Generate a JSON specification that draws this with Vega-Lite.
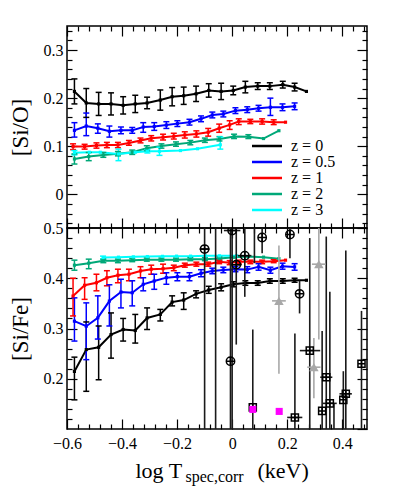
{
"$schema":"https://vega.github.io/schema/vega-lite/v6.json",
"padding":{"left":8,"top":24,"right":5,"bottom":5},
"config":{"font":"Liberation Serif, DejaVu Serif, serif","view":{"stroke":"#000","strokeWidth":1.5},
"axis":{"grid":false,"domain":false,"tickColor":"#000","tickWidth":1.2,"labelFont":"Liberation Serif, DejaVu Serif, serif","titleFont":"Liberation Serif, DejaVu Serif, serif","labelColor":"#000","titleColor":"#000","labelFontSize":16,"titleFontSize":22,"titleFontWeight":"normal","labelFlush":false,"labels":false},
"legend":{"labelFont":"Liberation Serif, DejaVu Serif, serif"}},
"datasets":{
"sim_top":[
{"s":"z = 0","x":-0.573,"y":0.214,"lo":0.188,"hi":0.240},
{"s":"z = 0","x":-0.530,"y":0.190,"lo":0.160,"hi":0.220},
{"s":"z = 0","x":-0.485,"y":0.188,"lo":0.164,"hi":0.212},
{"s":"z = 0","x":-0.440,"y":0.188,"lo":0.165,"hi":0.211},
{"s":"z = 0","x":-0.396,"y":0.185,"lo":0.167,"hi":0.203},
{"s":"z = 0","x":-0.352,"y":0.188,"lo":0.170,"hi":0.206},
{"s":"z = 0","x":-0.309,"y":0.190,"lo":0.178,"hi":0.202},
{"s":"z = 0","x":-0.261,"y":0.196,"lo":0.175,"hi":0.217},
{"s":"z = 0","x":-0.218,"y":0.203,"lo":0.184,"hi":0.222},
{"s":"z = 0","x":-0.176,"y":0.205,"lo":0.187,"hi":0.223},
{"s":"z = 0","x":-0.131,"y":0.209,"lo":0.193,"hi":0.225},
{"s":"z = 0","x":-0.085,"y":0.216,"lo":0.202,"hi":0.230},
{"s":"z = 0","x":-0.040,"y":0.214,"lo":0.197,"hi":0.231},
{"s":"z = 0","x":0.004,"y":0.216,"lo":0.207,"hi":0.225},
{"s":"z = 0","x":0.048,"y":0.223,"lo":0.211,"hi":0.235},
{"s":"z = 0","x":0.093,"y":0.225,"lo":0.218,"hi":0.232},
{"s":"z = 0","x":0.137,"y":0.225,"lo":0.218,"hi":0.232},
{"s":"z = 0","x":0.184,"y":0.228,"lo":0.221,"hi":0.235},
{"s":"z = 0","x":0.227,"y":0.223,"lo":0.215,"hi":0.231},
{"s":"z = 0","x":0.270,"y":0.214,"lo":null,"hi":null},
{"s":"z = 0.5","x":-0.573,"y":0.133,"lo":0.119,"hi":0.149},
{"s":"z = 0.5","x":-0.530,"y":0.142,"lo":0.122,"hi":0.169},
{"s":"z = 0.5","x":-0.488,"y":0.1375,"lo":0.127,"hi":0.1465},
{"s":"z = 0.5","x":-0.446,"y":0.131,"lo":0.119,"hi":0.142},
{"s":"z = 0.5","x":-0.404,"y":0.133,"lo":0.126,"hi":0.140},
{"s":"z = 0.5","x":-0.363,"y":0.133,"lo":0.127,"hi":0.139},
{"s":"z = 0.5","x":-0.323,"y":0.140,"lo":0.129,"hi":0.149},
{"s":"z = 0.5","x":-0.283,"y":0.141,"lo":0.133,"hi":0.149},
{"s":"z = 0.5","x":-0.239,"y":0.144,"lo":0.137,"hi":0.151},
{"s":"z = 0.5","x":-0.199,"y":0.147,"lo":0.141,"hi":0.153},
{"s":"z = 0.5","x":-0.155,"y":0.150,"lo":0.144,"hi":0.156},
{"s":"z = 0.5","x":-0.113,"y":0.157,"lo":0.151,"hi":0.163},
{"s":"z = 0.5","x":-0.072,"y":0.165,"lo":0.159,"hi":0.171},
{"s":"z = 0.5","x":-0.032,"y":0.167,"lo":0.161,"hi":0.173},
{"s":"z = 0.5","x":0.012,"y":0.174,"lo":0.168,"hi":0.180},
{"s":"z = 0.5","x":0.055,"y":0.176,"lo":0.170,"hi":0.182},
{"s":"z = 0.5","x":0.096,"y":0.179,"lo":0.173,"hi":0.185},
{"s":"z = 0.5","x":0.139,"y":0.181,"lo":0.164,"hi":0.200},
{"s":"z = 0.5","x":0.183,"y":0.181,"lo":0.174,"hi":0.188},
{"s":"z = 0.5","x":0.227,"y":0.183,"lo":0.176,"hi":0.190},
{"s":"z = 1","x":-0.578,"y":0.0994,"lo":0.093,"hi":0.105},
{"s":"z = 1","x":-0.536,"y":0.0994,"lo":0.094,"hi":0.104},
{"s":"z = 1","x":-0.493,"y":0.1015,"lo":0.096,"hi":0.107},
{"s":"z = 1","x":-0.455,"y":0.1027,"lo":0.097,"hi":0.108},
{"s":"z = 1","x":-0.415,"y":0.1027,"lo":0.097,"hi":0.108},
{"s":"z = 1","x":-0.375,"y":0.1069,"lo":0.102,"hi":0.112},
{"s":"z = 1","x":-0.333,"y":0.1119,"lo":0.107,"hi":0.117},
{"s":"z = 1","x":-0.294,"y":0.1167,"lo":0.111,"hi":0.122},
{"s":"z = 1","x":-0.251,"y":0.1188,"lo":0.113,"hi":0.125},
{"s":"z = 1","x":-0.212,"y":0.1208,"lo":0.115,"hi":0.127},
{"s":"z = 1","x":-0.172,"y":0.1235,"lo":0.117,"hi":0.130},
{"s":"z = 1","x":-0.130,"y":0.1256,"lo":0.119,"hi":0.132},
{"s":"z = 1","x":-0.087,"y":0.1292,"lo":0.121,"hi":0.137},
{"s":"z = 1","x":-0.047,"y":0.1375,"lo":0.129,"hi":0.146},
{"s":"z = 1","x":-0.009,"y":0.1444,"lo":0.135,"hi":0.153},
{"s":"z = 1","x":0.024,"y":0.1515,"lo":0.145,"hi":0.157},
{"s":"z = 1","x":0.066,"y":0.1515,"lo":0.147,"hi":0.156},
{"s":"z = 1","x":0.109,"y":0.1515,"lo":0.146,"hi":0.157},
{"s":"z = 1","x":0.151,"y":0.150,"lo":0.145,"hi":0.155},
{"s":"z = 1","x":0.194,"y":0.150,"lo":null,"hi":null},
{"s":"z = 2","x":-0.573,"y":0.0735,"lo":0.063,"hi":0.084},
{"s":"z = 2","x":-0.521,"y":0.0785,"lo":0.070,"hi":0.087},
{"s":"z = 2","x":-0.468,"y":0.0817,"lo":0.077,"hi":0.087},
{"s":"z = 2","x":-0.415,"y":0.0844,"lo":0.080,"hi":0.089},
{"s":"z = 2","x":-0.363,"y":0.0875,"lo":0.083,"hi":0.092},
{"s":"z = 2","x":-0.310,"y":0.0958,"lo":0.091,"hi":0.101},
{"s":"z = 2","x":-0.257,"y":0.1004,"lo":0.096,"hi":0.105},
{"s":"z = 2","x":-0.204,"y":0.1042,"lo":0.100,"hi":0.109},
{"s":"z = 2","x":-0.152,"y":0.1075,"lo":0.103,"hi":0.112},
{"s":"z = 2","x":-0.099,"y":0.1125,"lo":0.108,"hi":0.117},
{"s":"z = 2","x":-0.046,"y":0.1152,"lo":0.111,"hi":0.120},
{"s":"z = 2","x":0.007,"y":0.1204,"lo":0.116,"hi":0.125},
{"s":"z = 2","x":0.059,"y":0.1198,"lo":0.116,"hi":0.124},
{"s":"z = 2","x":0.114,"y":0.116,"lo":null,"hi":null},
{"s":"z = 2","x":0.170,"y":0.1323,"lo":null,"hi":null},
{"s":"z = 3","x":-0.573,"y":0.0865,"lo":0.082,"hi":0.091},
{"s":"z = 3","x":-0.519,"y":0.0875,"lo":null,"hi":null},
{"s":"z = 3","x":-0.479,"y":0.0875,"lo":null,"hi":null},
{"s":"z = 3","x":-0.413,"y":0.084,"lo":0.070,"hi":0.094},
{"s":"z = 3","x":-0.352,"y":0.0875,"lo":null,"hi":null},
{"s":"z = 3","x":-0.308,"y":0.0896,"lo":0.086,"hi":0.093},
{"s":"z = 3","x":-0.264,"y":0.0896,"lo":0.081,"hi":0.098},
{"s":"z = 3","x":-0.188,"y":0.091,"lo":null,"hi":null},
{"s":"z = 3","x":-0.126,"y":0.0948,"lo":null,"hi":null},
{"s":"z = 3","x":-0.043,"y":0.103,"lo":0.094,"hi":0.119}
],
"sim_bot":[
{"s":"z = 0","x":-0.573,"y":0.2146,"lo":0.158,"hi":0.243},
{"s":"z = 0","x":-0.530,"y":0.258,"lo":0.175,"hi":0.313},
{"s":"z = 0","x":-0.485,"y":0.2626,"lo":0.198,"hi":0.305},
{"s":"z = 0","x":-0.440,"y":0.288,"lo":0.241,"hi":0.331},
{"s":"z = 0","x":-0.396,"y":0.298,"lo":0.275,"hi":0.320},
{"s":"z = 0","x":-0.352,"y":0.296,"lo":0.271,"hi":0.328},
{"s":"z = 0","x":-0.309,"y":0.321,"lo":0.298,"hi":0.341},
{"s":"z = 0","x":-0.261,"y":0.328,"lo":0.315,"hi":0.338},
{"s":"z = 0","x":-0.218,"y":0.3526,"lo":0.345,"hi":0.365},
{"s":"z = 0","x":-0.176,"y":0.3566,"lo":0.338,"hi":0.371},
{"s":"z = 0","x":-0.131,"y":0.369,"lo":0.361,"hi":0.375},
{"s":"z = 0","x":-0.085,"y":0.3766,"lo":0.370,"hi":0.384},
{"s":"z = 0","x":-0.040,"y":0.382,"lo":0.375,"hi":0.389},
{"s":"z = 0","x":0.004,"y":0.388,"lo":0.383,"hi":0.393},
{"s":"z = 0","x":0.048,"y":0.3906,"lo":0.386,"hi":0.395},
{"s":"z = 0","x":0.093,"y":0.3906,"lo":0.386,"hi":0.395},
{"s":"z = 0","x":0.137,"y":0.3946,"lo":0.390,"hi":0.399},
{"s":"z = 0","x":0.184,"y":0.3946,"lo":0.390,"hi":0.399},
{"s":"z = 0","x":0.227,"y":0.396,"lo":0.392,"hi":0.400},
{"s":"z = 0","x":0.270,"y":0.396,"lo":null,"hi":null},
{"s":"z = 0.5","x":-0.573,"y":0.3146,"lo":0.275,"hi":0.361},
{"s":"z = 0.5","x":-0.530,"y":0.3046,"lo":0.238,"hi":0.351},
{"s":"z = 0.5","x":-0.488,"y":0.3212,"lo":0.279,"hi":0.365},
{"s":"z = 0.5","x":-0.446,"y":0.3546,"lo":0.305,"hi":0.387},
{"s":"z = 0.5","x":-0.404,"y":0.3726,"lo":0.341,"hi":0.398},
{"s":"z = 0.5","x":-0.363,"y":0.3712,"lo":0.345,"hi":0.395},
{"s":"z = 0.5","x":-0.323,"y":0.388,"lo":0.375,"hi":0.401},
{"s":"z = 0.5","x":-0.283,"y":0.3946,"lo":0.378,"hi":0.408},
{"s":"z = 0.5","x":-0.239,"y":0.4012,"lo":0.388,"hi":0.411},
{"s":"z = 0.5","x":-0.199,"y":0.4032,"lo":0.395,"hi":0.411},
{"s":"z = 0.5","x":-0.155,"y":0.4032,"lo":0.395,"hi":0.411},
{"s":"z = 0.5","x":-0.113,"y":0.41,"lo":0.403,"hi":0.417},
{"s":"z = 0.5","x":-0.072,"y":0.4146,"lo":0.409,"hi":0.420},
{"s":"z = 0.5","x":-0.032,"y":0.4166,"lo":0.411,"hi":0.422},
{"s":"z = 0.5","x":0.012,"y":0.418,"lo":0.413,"hi":0.423},
{"s":"z = 0.5","x":0.055,"y":0.4172,"lo":0.411,"hi":0.423},
{"s":"z = 0.5","x":0.096,"y":0.4226,"lo":0.416,"hi":0.429},
{"s":"z = 0.5","x":0.139,"y":0.416,"lo":0.410,"hi":0.422},
{"s":"z = 0.5","x":0.183,"y":0.424,"lo":0.418,"hi":0.430},
{"s":"z = 0.5","x":0.227,"y":0.4226,"lo":0.416,"hi":0.429},
{"s":"z = 1","x":-0.578,"y":0.3646,"lo":0.325,"hi":0.400},
{"s":"z = 1","x":-0.536,"y":0.386,"lo":0.358,"hi":0.401},
{"s":"z = 1","x":-0.493,"y":0.391,"lo":0.375,"hi":0.408},
{"s":"z = 1","x":-0.455,"y":0.401,"lo":0.385,"hi":0.415},
{"s":"z = 1","x":-0.415,"y":0.406,"lo":0.391,"hi":0.418},
{"s":"z = 1","x":-0.375,"y":0.408,"lo":0.395,"hi":0.418},
{"s":"z = 1","x":-0.333,"y":0.4146,"lo":0.401,"hi":0.423},
{"s":"z = 1","x":-0.294,"y":0.418,"lo":0.408,"hi":0.426},
{"s":"z = 1","x":-0.251,"y":0.419,"lo":0.410,"hi":0.428},
{"s":"z = 1","x":-0.212,"y":0.421,"lo":0.415,"hi":0.426},
{"s":"z = 1","x":-0.172,"y":0.426,"lo":0.422,"hi":0.430},
{"s":"z = 1","x":-0.130,"y":0.428,"lo":0.424,"hi":0.432},
{"s":"z = 1","x":-0.087,"y":0.428,"lo":0.424,"hi":0.432},
{"s":"z = 1","x":-0.047,"y":0.4326,"lo":0.429,"hi":0.436},
{"s":"z = 1","x":-0.009,"y":0.431,"lo":0.427,"hi":0.435},
{"s":"z = 1","x":0.024,"y":0.4326,"lo":0.429,"hi":0.436},
{"s":"z = 1","x":0.066,"y":0.4326,"lo":0.429,"hi":0.436},
{"s":"z = 1","x":0.109,"y":0.4326,"lo":0.429,"hi":0.436},
{"s":"z = 1","x":0.151,"y":0.434,"lo":0.431,"hi":0.437},
{"s":"z = 1","x":0.194,"y":0.436,"lo":null,"hi":null},
{"s":"z = 2","x":-0.573,"y":0.426,"lo":0.416,"hi":0.436},
{"s":"z = 2","x":-0.521,"y":0.430,"lo":0.419,"hi":0.438},
{"s":"z = 2","x":-0.468,"y":0.4346,"lo":0.431,"hi":0.438},
{"s":"z = 2","x":-0.415,"y":0.4346,"lo":0.431,"hi":0.438},
{"s":"z = 2","x":-0.363,"y":0.436,"lo":0.433,"hi":0.439},
{"s":"z = 2","x":-0.310,"y":0.4366,"lo":0.434,"hi":0.440},
{"s":"z = 2","x":-0.257,"y":0.4366,"lo":0.434,"hi":0.440},
{"s":"z = 2","x":-0.204,"y":0.4366,"lo":0.434,"hi":0.440},
{"s":"z = 2","x":-0.152,"y":0.438,"lo":0.435,"hi":0.441},
{"s":"z = 2","x":-0.099,"y":0.438,"lo":0.435,"hi":0.441},
{"s":"z = 2","x":-0.046,"y":0.4392,"lo":0.436,"hi":0.442},
{"s":"z = 2","x":0.007,"y":0.4416,"lo":null,"hi":null},
{"s":"z = 2","x":0.059,"y":0.4432,"lo":null,"hi":null},
{"s":"z = 2","x":0.114,"y":0.442,"lo":null,"hi":null},
{"s":"z = 2","x":0.170,"y":0.439,"lo":null,"hi":null},
{"s":"z = 3","x":-0.469,"y":0.4412,"lo":0.438,"hi":0.444},
{"s":"z = 3","x":-0.413,"y":0.442,"lo":null,"hi":null},
{"s":"z = 3","x":-0.359,"y":0.4426,"lo":null,"hi":null},
{"s":"z = 3","x":-0.308,"y":0.4432,"lo":null,"hi":null},
{"s":"z = 3","x":-0.253,"y":0.4436,"lo":null,"hi":null},
{"s":"z = 3","x":-0.202,"y":0.444,"lo":null,"hi":null},
{"s":"z = 3","x":-0.151,"y":0.444,"lo":null,"hi":null},
{"s":"z = 3","x":-0.097,"y":0.4446,"lo":null,"hi":null},
{"s":"z = 3","x":-0.046,"y":0.4446,"lo":null,"hi":null},
{"s":"z = 3","x":0.016,"y":0.4446,"lo":null,"hi":null}
],
"obs":[
{"t":"c","x":-0.100,"y":0.458,"ylo":0.05,"yhi":0.6,"xlo":-0.118,"xhi":-0.082},
{"t":"c","x":0.000,"y":0.495,"ylo":0.05,"yhi":0.6,"xlo":-0.03,"xhi":0.03},
{"t":"c","x":0.109,"y":0.481,"ylo":0.45,"yhi":0.52,"xlo":null,"xhi":null},
{"t":"c","x":0.210,"y":0.487,"ylo":0.44,"yhi":0.53,"xlo":null,"xhi":null},
{"t":"c","x":0.046,"y":0.445,"ylo":0.363,"yhi":0.6,"xlo":0.02,"xhi":0.07},
{"t":"c","x":0.245,"y":0.369,"ylo":0.33,"yhi":0.395,"xlo":null,"xhi":null},
{"t":"c","x":-0.006,"y":0.235,"ylo":0.05,"yhi":0.6,"xlo":null,"xhi":null},
{"t":"c","x":0.015,"y":0.427,"ylo":0.268,"yhi":0.6,"xlo":-0.005,"xhi":0.035},
{"t":"s","x":0.282,"y":0.256,"ylo":0.05,"yhi":0.48,"xlo":0.246,"xhi":0.32},
{"t":"s","x":0.342,"y":0.203,"ylo":0.05,"yhi":0.483,"xlo":0.32,"xhi":0.364},
{"t":"s","x":0.355,"y":0.151,"ylo":0.05,"yhi":0.373,"xlo":0.33,"xhi":0.38},
{"t":"s","x":0.327,"y":0.136,"ylo":0.05,"yhi":0.295,"xlo":null,"xhi":null},
{"t":"s","x":0.228,"y":0.123,"ylo":0.05,"yhi":0.29,"xlo":0.2,"xhi":0.255},
{"t":"s","x":0.413,"y":0.170,"ylo":0.05,"yhi":0.455,"xlo":0.39,"xhi":0.435},
{"t":"s","x":0.404,"y":0.158,"ylo":0.05,"yhi":0.215,"xlo":null,"xhi":null},
{"t":"s","x":0.470,"y":0.230,"ylo":0.05,"yhi":0.335,"xlo":null,"xhi":null},
{"t":"s","x":0.075,"y":0.143,"ylo":0.05,"yhi":0.298,"xlo":null,"xhi":null},
{"t":"t","x":0.170,"y":0.355,"ylo":0.21,"yhi":0.465,"xlo":0.145,"xhi":0.195},
{"t":"t","x":0.315,"y":0.428,"ylo":0.278,"yhi":0.6,"xlo":0.29,"xhi":0.34},
{"t":"t","x":0.297,"y":0.223,"ylo":0.161,"yhi":0.281,"xlo":0.273,"xhi":0.321},
{"t":"m","x":0.075,"y":0.139,"ylo":null,"yhi":null,"xlo":null,"xhi":null},
{"t":"m","x":0.171,"y":0.135,"ylo":null,"yhi":null,"xlo":null,"xhi":null},
{"t":"n","x":-0.060,"y":null,"ylo":0.05,"yhi":0.6,"xlo":null,"xhi":null},
{"t":"n","x":0.081,"y":null,"ylo":0.43,"yhi":0.6,"xlo":null,"xhi":null},
{"t":"n","x":0.370,"y":null,"ylo":0.05,"yhi":0.15,"xlo":null,"xhi":null}
]
},
"vconcat":[
{
"width":300,"height":202,
"resolve":{"axis":{"x":"independent","y":"independent"}},
"layer":[
{"data":{"name":"sim_top"},"mark":{"type":"line","strokeWidth":2},
"encoding":{
"x":{"field":"x","type":"quantitative","scale":{"domain":[-0.6,0.49],"nice":false,"zero":false},"axis":{"orient":"bottom","offset":-10,"tickSize":10,"values":[-0.6,-0.4,-0.2,0,0.2,0.4],"title":null}},
"y":{"field":"y","type":"quantitative","scale":{"domain":[-0.07,0.35],"nice":false,"zero":false},"axis":{"orient":"left","offset":-10,"tickSize":10,"values":[0,0.1,0.2,0.3],"labels":true,"format":".1~f","labelPadding":4,"title":"[Si/O]","titleFontSize":23,"titlePadding":11}},
"color":{"field":"s","type":"nominal","scale":{"domain":["z = 0","z = 0.5","z = 1","z = 2","z = 3"],"range":["#000000","#0000ff","#ff0000","#00a878","#00ffff"]},
"legend":{"orient":"none","legendX":177,"legendY":112,"title":null,"symbolType":"M0,0H10","symbolSize":36,"symbolStrokeWidth":2.5,"labelFontSize":16,"labelColor":"#000","labelOffset":31,"rowPadding":-2.4,"padding":0}}}},
{"data":{"name":"sim_top"},"transform":[{"filter":"datum.lo != null"}],"mark":{"type":"rule","strokeWidth":1.5},
"encoding":{
"x":{"field":"x","type":"quantitative","scale":{"domain":[-0.6,0.49],"nice":false,"zero":false},"axis":{"orient":"bottom","offset":-5,"tickSize":5,"values":[-0.56,-0.52,-0.48,-0.44,-0.36,-0.32,-0.28,-0.24,-0.16,-0.12,-0.08,-0.04,0.04,0.08,0.12,0.16,0.24,0.28,0.32,0.36,0.44,0.48],"title":null}},
"y":{"field":"lo","type":"quantitative","scale":{"domain":[-0.07,0.35],"nice":false,"zero":false},"axis":{"orient":"left","offset":-5,"tickSize":5,"values":[-0.06,-0.04,-0.02,0.02,0.04,0.06,0.08,0.12,0.14,0.16,0.18,0.22,0.24,0.26,0.28,0.32,0.34],"title":null}},
"y2":{"field":"hi"},
"color":{"field":"s","type":"nominal","legend":null}}},
{"data":{"name":"sim_top"},"transform":[{"filter":"datum.lo != null"}],"mark":{"type":"point","shape":"stroke","size":36,"strokeWidth":1.5,"filled":false,"opacity":1},
"encoding":{
"x":{"field":"x","type":"quantitative","scale":{"domain":[-0.6,0.49],"nice":false,"zero":false},"axis":{"orient":"top","offset":-10,"tickSize":10,"values":[-0.6,-0.4,-0.2,0,0.2,0.4],"title":null}},
"y":{"field":"lo","type":"quantitative","scale":{"domain":[-0.07,0.35],"nice":false,"zero":false},"axis":{"orient":"right","offset":-10,"tickSize":10,"values":[0,0.1,0.2,0.3],"title":null}},
"color":{"field":"s","type":"nominal","legend":null}}},
{"data":{"name":"sim_top"},"transform":[{"filter":"datum.hi != null"}],"mark":{"type":"point","shape":"stroke","size":36,"strokeWidth":1.5,"filled":false,"opacity":1},
"encoding":{
"x":{"field":"x","type":"quantitative","scale":{"domain":[-0.6,0.49],"nice":false,"zero":false},"axis":{"orient":"top","offset":-5,"tickSize":5,"values":[-0.56,-0.52,-0.48,-0.44,-0.36,-0.32,-0.28,-0.24,-0.16,-0.12,-0.08,-0.04,0.04,0.08,0.12,0.16,0.24,0.28,0.32,0.36,0.44,0.48],"title":null}},
"y":{"field":"hi","type":"quantitative","scale":{"domain":[-0.07,0.35],"nice":false,"zero":false},"axis":{"orient":"right","offset":-5,"tickSize":5,"values":[-0.06,-0.04,-0.02,0.02,0.04,0.06,0.08,0.12,0.14,0.16,0.18,0.22,0.24,0.26,0.28,0.32,0.34],"title":null}},
"color":{"field":"s","type":"nominal","legend":null}}},
{"data":{"name":"sim_top"},"mark":{"type":"point","shape":"square","filled":true,"size":10,"opacity":1},
"encoding":{
"x":{"field":"x","type":"quantitative","scale":{"domain":[-0.6,0.49],"nice":false,"zero":false},"axis":null},
"y":{"field":"y","type":"quantitative","scale":{"domain":[-0.07,0.35],"nice":false,"zero":false},"axis":null},
"color":{"field":"s","type":"nominal","legend":null}}}
]
},
{
"width":300,"height":201,
"resolve":{"axis":{"x":"independent","y":"independent"}},
"layer":[
{"data":{"name":"sim_bot"},"mark":{"type":"line","strokeWidth":2},
"encoding":{
"x":{"field":"x","type":"quantitative","scale":{"domain":[-0.6,0.49],"nice":false,"zero":false},"axis":{"orient":"bottom","offset":-10,"tickSize":10,"values":[-0.6,-0.4,-0.2,0,0.2,0.4],"labels":true,"format":".1~f","labelPadding":6,"title":"log T","titleAlign":"left","titleBaseline":"alphabetic","titleX":68,"titleY":58}},
"y":{"field":"y","type":"quantitative","scale":{"domain":[0.1,0.5],"nice":false,"zero":false},"axis":{"orient":"left","offset":-10,"tickSize":10,"values":[0.2,0.3,0.4,0.5],"labels":true,"format":".1~f","labelPadding":4,"title":"[Si/Fe]","titleFontSize":23,"titlePadding":11}},
"color":{"field":"s","type":"nominal","scale":{"domain":["z = 0","z = 0.5","z = 1","z = 2","z = 3"],"range":["#000000","#0000ff","#ff0000","#00a878","#00ffff"]},"legend":null}}},
{"data":{"name":"sim_bot"},"transform":[{"filter":"datum.lo != null"}],"mark":{"type":"rule","strokeWidth":1.5},
"encoding":{
"x":{"field":"x","type":"quantitative","scale":{"domain":[-0.6,0.49],"nice":false,"zero":false},"axis":{"orient":"bottom","offset":-5,"tickSize":5,"values":[-0.56,-0.52,-0.48,-0.44,-0.36,-0.32,-0.28,-0.24,-0.16,-0.12,-0.08,-0.04,0.04,0.08,0.12,0.16,0.24,0.28,0.32,0.36,0.44,0.48],"title":"spec,corr","titleFontSize":16,"titleAlign":"left","titleBaseline":"alphabetic","titleX":118,"titleY":57}},
"y":{"field":"lo","type":"quantitative","scale":{"domain":[0.1,0.5],"nice":false,"zero":false},"axis":{"orient":"left","offset":-5,"tickSize":5,"values":[0.12,0.14,0.16,0.18,0.22,0.24,0.26,0.28,0.32,0.34,0.36,0.38,0.42,0.44,0.46,0.48],"title":null}},
"y2":{"field":"hi"},
"color":{"field":"s","type":"nominal","legend":null}}},
{"data":{"name":"sim_bot"},"transform":[{"filter":"datum.lo != null"}],"mark":{"type":"point","shape":"stroke","size":36,"strokeWidth":1.5,"filled":false,"opacity":1},
"encoding":{
"x":{"field":"x","type":"quantitative","scale":{"domain":[-0.6,0.49],"nice":false,"zero":false},"axis":{"orient":"top","offset":-10,"tickSize":10,"values":[-0.6,-0.4,-0.2,0,0.2,0.4],"title":null}},
"y":{"field":"lo","type":"quantitative","scale":{"domain":[0.1,0.5],"nice":false,"zero":false},"axis":{"orient":"right","offset":-10,"tickSize":10,"values":[0.1,0.2,0.3,0.4,0.5],"title":null}},
"color":{"field":"s","type":"nominal","legend":null}}},
{"data":{"name":"sim_bot"},"transform":[{"filter":"datum.hi != null"}],"mark":{"type":"point","shape":"stroke","size":36,"strokeWidth":1.5,"filled":false,"opacity":1},
"encoding":{
"x":{"field":"x","type":"quantitative","scale":{"domain":[-0.6,0.49],"nice":false,"zero":false},"axis":{"orient":"top","offset":-5,"tickSize":5,"values":[-0.56,-0.52,-0.48,-0.44,-0.36,-0.32,-0.28,-0.24,-0.16,-0.12,-0.08,-0.04,0.04,0.08,0.12,0.16,0.24,0.28,0.32,0.36,0.44,0.48],"title":null}},
"y":{"field":"hi","type":"quantitative","scale":{"domain":[0.1,0.5],"nice":false,"zero":false},"axis":{"orient":"right","offset":-5,"tickSize":5,"values":[0.12,0.14,0.16,0.18,0.22,0.24,0.26,0.28,0.32,0.34,0.36,0.38,0.42,0.44,0.46,0.48],"title":null}},
"color":{"field":"s","type":"nominal","legend":null}}},
{"data":{"name":"sim_bot"},"mark":{"type":"point","shape":"square","filled":true,"size":10,"opacity":1},
"encoding":{
"x":{"field":"x","type":"quantitative","scale":{"domain":[-0.6,0.49],"nice":false,"zero":false},"axis":{"orient":"bottom","ticks":false,"labels":false,"title":"(keV)","titleAlign":"left","titleBaseline":"alphabetic","titleX":190,"titleY":48}},
"y":{"field":"y","type":"quantitative","scale":{"domain":[0.1,0.5],"nice":false,"zero":false},"axis":null},
"color":{"field":"s","type":"nominal","legend":null}}},
{"data":{"name":"obs"},"transform":[{"filter":"datum.ylo != null"}],"mark":{"type":"rule","strokeWidth":1.6,"clip":true},
"encoding":{
"x":{"field":"x","type":"quantitative","axis":null},
"y":{"field":"ylo","type":"quantitative","axis":null},
"y2":{"field":"yhi"},
"color":{"condition":{"test":"datum.t == 't'","value":"#a8a8a8"},"value":"#1a1a1a"}}},
{"data":{"name":"obs"},"transform":[{"filter":"datum.xlo != null"}],"mark":{"type":"rule","strokeWidth":1.6,"clip":true},
"encoding":{
"x":{"field":"xlo","type":"quantitative","axis":null},
"x2":{"field":"xhi"},
"y":{"field":"y","type":"quantitative","axis":null},
"color":{"condition":{"test":"datum.t == 't'","value":"#a8a8a8"},"value":"#1a1a1a"}}},
{"data":{"name":"obs"},"transform":[{"filter":"datum.t == 'c'"}],"mark":{"type":"point","shape":"M1,0A1,1,0,1,1,-1,0A1,1,0,1,1,1,0ZM-1,0H1M0,-1V1","size":70,"filled":false,"stroke":"#000","strokeWidth":1.5,"opacity":1,"clip":true},
"encoding":{"x":{"field":"x","type":"quantitative","axis":null},"y":{"field":"y","type":"quantitative","axis":null}}},
{"data":{"name":"obs"},"transform":[{"filter":"datum.t == 's'"}],"mark":{"type":"point","shape":"M-1,-1H1V1H-1ZM-1,0H1M0,-1V1","size":50,"filled":false,"stroke":"#000","strokeWidth":1.5,"opacity":1,"clip":true},
"encoding":{"x":{"field":"x","type":"quantitative","axis":null},"y":{"field":"y","type":"quantitative","axis":null}}},
{"data":{"name":"obs"},"transform":[{"filter":"datum.t == 't'"}],"mark":{"type":"point","shape":"triangle-up","size":90,"filled":true,"color":"#a8a8a8","opacity":1,"clip":true},
"encoding":{"x":{"field":"x","type":"quantitative","axis":null},"y":{"field":"y","type":"quantitative","axis":null}}},
{"data":{"name":"obs"},"transform":[{"filter":"datum.t == 'm'"}],"mark":{"type":"point","shape":"square","size":50,"filled":true,"color":"#ff00ff","opacity":1,"clip":true},
"encoding":{"x":{"field":"x","type":"quantitative","axis":null},"y":{"field":"y","type":"quantitative","axis":null}}}
]
}
],
"spacing":0,
"bounds":"flush",
"resolve":{"scale":{"color":"independent"},"legend":{"color":"independent"}}
}
